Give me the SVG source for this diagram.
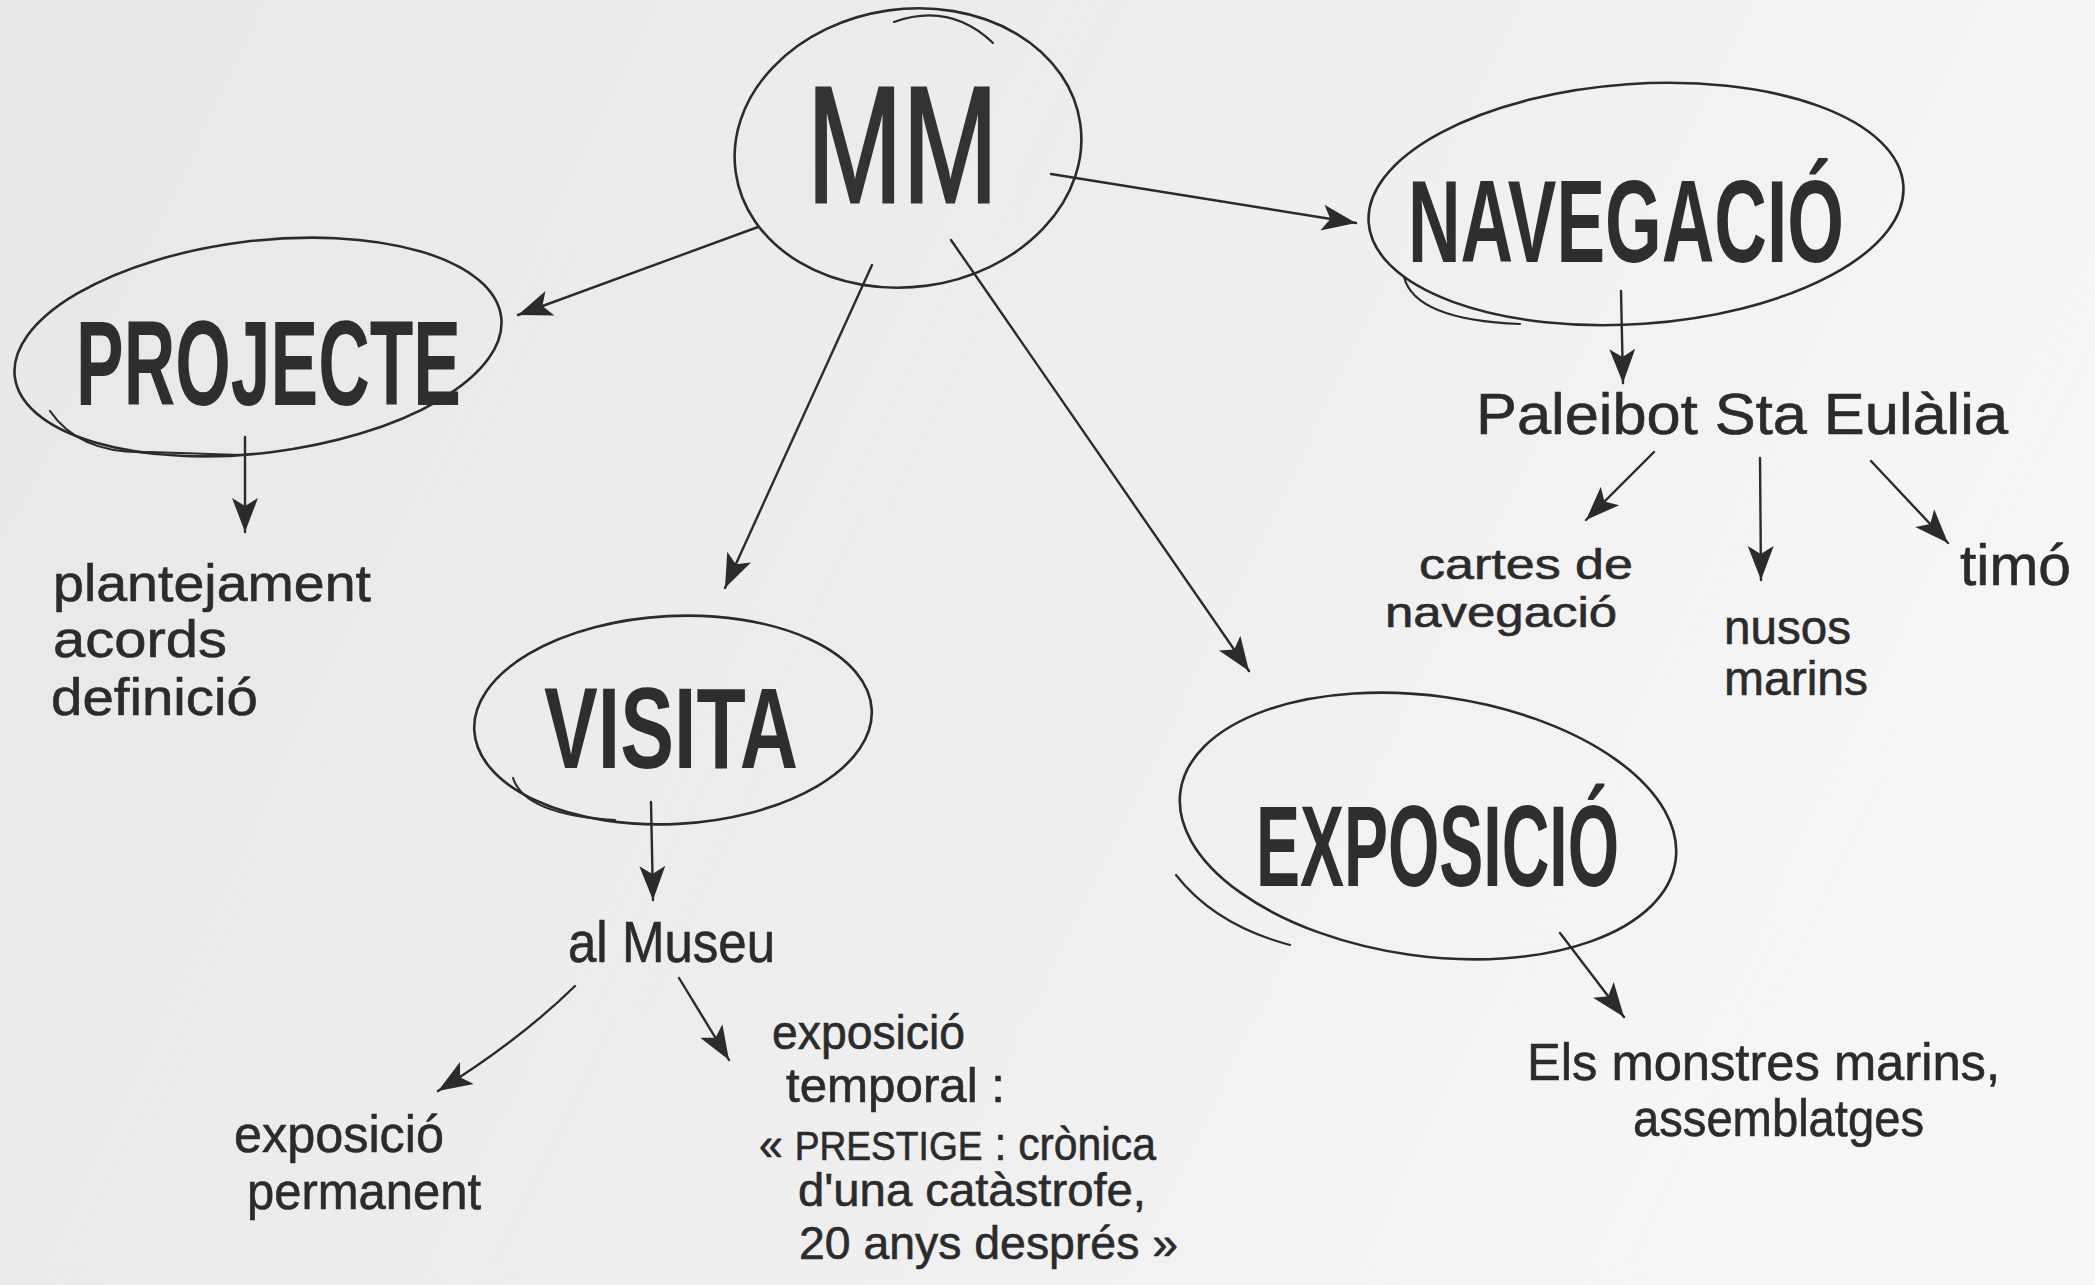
<svg xmlns="http://www.w3.org/2000/svg" width="2095" height="1285" viewBox="0 0 2095 1285">
<defs>
<linearGradient id="paper" x1="0" y1="0" x2="1" y2="0.3">
<stop offset="0" stop-color="#e7e7e7"/>
<stop offset="0.6" stop-color="#eeeeee"/>
<stop offset="1" stop-color="#f6f6f6"/>
</linearGradient>
<marker id="ah" markerUnits="userSpaceOnUse" markerWidth="40" markerHeight="32" refX="34" refY="16" orient="auto">
<path d="M0,3 L34,16 L0,29 L8,16 z" fill="#2b2b2b"/>
</marker>
<style>
.ring{fill:none;stroke:#2b2b2b;stroke-width:2.6;stroke-linecap:round}
.tail{fill:none;stroke:#2b2b2b;stroke-width:2.2;stroke-linecap:round}
.link{fill:none;stroke:#2b2b2b;stroke-width:2.4;stroke-linecap:round;marker-end:url(#ah)}
.title{font-family:"Liberation Sans","DejaVu Sans",sans-serif;font-weight:bold;fill:#2e2e2e}
.mm{font-family:"Liberation Sans","DejaVu Sans",sans-serif;font-weight:normal;fill:#333333;stroke:#333333;stroke-width:3}
.hand{font-family:"Liberation Sans","DejaVu Sans",sans-serif;fill:#2b2b2b;stroke:#2b2b2b;stroke-width:0.6}
</style>
</defs>
<rect width="2095" height="1285" fill="url(#paper)"/>

<g id="connectors">
<path class="link" d="M758,227 L518,315"/>
<path class="link" d="M872,265 L725,588"/>
<path class="link" d="M951,240 L1249,671"/>
<path class="link" d="M1051,174 L1356,223"/>
<path class="link" d="M245,437 L245,532"/>
<path class="link" d="M1621,291 L1623,383"/>
<path class="link" d="M1654,452 L1586,520"/>
<path class="link" d="M1760,458 L1761,580"/>
<path class="link" d="M1871,461 L1948,543"/>
<path class="link" d="M651,802 L653,900"/>
<path class="link" d="M575,986 Q520,1040 438,1091"/>
<path class="link" d="M679,978 L729,1060"/>
<path class="link" d="M1560,933 L1624,1017"/>
</g>

<g id="node-mm">
<ellipse class="ring" cx="908" cy="148" rx="174" ry="139" transform="rotate(-8 908 148)"/>
<path class="tail" d="M894,22 Q950,2 993,43"/>
<text class="mm" x="807" y="202" font-size="166" textLength="191" lengthAdjust="spacingAndGlyphs">MM</text>
</g>

<g id="node-projecte">
<ellipse class="ring" cx="258" cy="347" rx="245" ry="106" transform="rotate(-7 258 347)"/>
<path class="tail" d="M50,411 Q80,455 150,452 L240,455"/>
<text class="title" x="76" y="405" font-size="121" textLength="385" lengthAdjust="spacingAndGlyphs">PROJECTE</text>
</g>

<g id="node-navegacio">
<ellipse class="ring" cx="1636" cy="204" rx="268" ry="120" transform="rotate(-4 1636 204)"/>
<path class="tail" d="M1404,277 Q1415,320 1520,324"/>
<text class="title" transform="translate(1408 262) scale(0.62 1)" x="0" y="0" font-size="116" textLength="703" lengthAdjust="spacingAndGlyphs">NAVEGACIÓ</text>
</g>

<g id="node-visita">
<ellipse class="ring" cx="673" cy="720" rx="199" ry="104" transform="rotate(-3 673 720)"/>
<path class="tail" d="M513,778 Q525,815 615,820"/>
<text class="title" x="544" y="768" font-size="115" textLength="254" lengthAdjust="spacingAndGlyphs">VISITA</text>
</g>

<g id="node-exposicio">
<ellipse class="ring" cx="1428" cy="826" rx="250" ry="130" transform="rotate(8 1428 826)"/>
<path class="tail" d="M1176,875 Q1215,925 1290,945"/>
<text class="title" x="1256" y="886" font-size="115" textLength="363" lengthAdjust="spacingAndGlyphs">EXPOSICIÓ</text>
</g>

<g id="text-projecte">
<text class="hand" x="53" y="601" font-size="52" textLength="318" lengthAdjust="spacingAndGlyphs">plantejament</text>
<text class="hand" x="53" y="657" font-size="52" textLength="174" lengthAdjust="spacingAndGlyphs">acords</text>
<text class="hand" x="51" y="715" font-size="52" textLength="207" lengthAdjust="spacingAndGlyphs">definició</text>
</g>

<g id="text-paleibot">
<text class="hand" x="1476" y="434" font-size="58" textLength="532" lengthAdjust="spacingAndGlyphs">Paleibot Sta Eulàlia</text>
</g>
<g id="text-cartes">
<text class="hand" x="1419" y="579" font-size="42" textLength="214" lengthAdjust="spacingAndGlyphs">cartes de</text>
<text class="hand" x="1385" y="627" font-size="42" textLength="232" lengthAdjust="spacingAndGlyphs">navegació</text>
</g>
<g id="text-nusos">
<text class="hand" x="1724" y="644" font-size="48" textLength="127" lengthAdjust="spacingAndGlyphs">nusos</text>
<text class="hand" x="1724" y="695" font-size="48" textLength="144" lengthAdjust="spacingAndGlyphs">marins</text>
</g>
<g id="text-timo">
<text class="hand" x="1960" y="585" font-size="58" textLength="111" lengthAdjust="spacingAndGlyphs">timó</text>
</g>

<g id="text-museu">
<text class="hand" x="568" y="962" font-size="58" textLength="207" lengthAdjust="spacingAndGlyphs">al Museu</text>
</g>
<g id="text-permanent">
<text class="hand" x="234" y="1152" font-size="52" textLength="210" lengthAdjust="spacingAndGlyphs">exposició</text>
<text class="hand" x="247" y="1209" font-size="52" textLength="234" lengthAdjust="spacingAndGlyphs">permanent</text>
</g>
<g id="text-temporal">
<text class="hand" x="772" y="1049" font-size="48" textLength="193" lengthAdjust="spacingAndGlyphs">exposició</text>
<text class="hand" x="786" y="1102" font-size="48" textLength="219" lengthAdjust="spacingAndGlyphs">temporal :</text>
<text class="hand" x="759" y="1160" font-size="46" textLength="397" lengthAdjust="spacingAndGlyphs">« <tspan font-size="40">PRESTIGE</tspan> : crònica</text>
<text class="hand" x="798" y="1206" font-size="46" textLength="348" lengthAdjust="spacingAndGlyphs">d'una catàstrofe,</text>
<text class="hand" x="799" y="1259" font-size="46" textLength="379" lengthAdjust="spacingAndGlyphs">20 anys després »</text>
</g>
<g id="text-monstres">
<text class="hand" x="1527" y="1080" font-size="52" textLength="473" lengthAdjust="spacingAndGlyphs">Els monstres marins,</text>
<text class="hand" x="1633" y="1136" font-size="52" textLength="291" lengthAdjust="spacingAndGlyphs">assemblatges</text>
</g>
</svg>
